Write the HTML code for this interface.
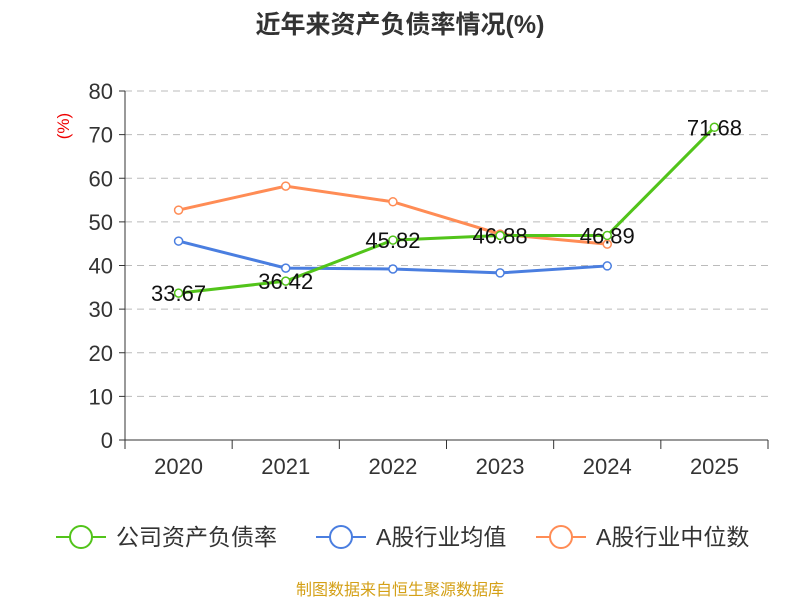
<!DOCTYPE html>
<html><head><meta charset="utf-8"><style>
body{margin:0;background:#fff;}
svg text{font-family:"Liberation Sans","Noto Sans CJK SC",sans-serif;}
</style></head><body>
<svg id="chart" width="800" height="600">
<text x="400" y="33" text-anchor="middle" font-size="25" font-weight="bold" fill="#333">近年来资产负债率情况(%)</text>
<text x="69" y="126" font-size="17" fill="#e00" transform="rotate(-90 69 126)" text-anchor="middle">(%)</text>
<g id="grid"></g>
<g id="axes"></g>
<g id="series"></g>
<g id="legend"></g>
<text x="400" y="595" text-anchor="middle" font-size="16" fill="#d4a017">制图数据来自恒生聚源数据库</text>
</svg>
<script>
const categories=["2020","2021","2022","2023","2024","2025"];
const companyValues=[33.67,36.42,45.82,46.88,46.89,71.68];
const avgValues=[45.6,39.4,39.2,38.3,39.9,null];
const medianValues=[52.7,58.2,54.6,47.2,44.9,null];
const yTicks=[0,10,20,30,40,50,60,70,80];
const NS="http://www.w3.org/2000/svg";
const L=125,R=768,T=91,B=440,yMax=80;
const bw=(R-L)/categories.length;
const xs=i=>L+bw*(i+0.5);
const ys=v=>B-(v/yMax)*(B-T);
function mk(tag,attrs,parent){const e=document.createElementNS(NS,tag);for(const k in attrs)e.setAttribute(k,attrs[k]);parent.appendChild(e);return e;}
const grid=document.getElementById('grid'),axes=document.getElementById('axes'),ser=document.getElementById('series'),leg=document.getElementById('legend');
yTicks.forEach(t=>{
  const y=ys(t);
  if(t>0){const g=mk('line',{x1:L,x2:R,y1:y,y2:y,stroke:'#bbb','stroke-dasharray':'7,5'},grid);
  
  }
  const tk=mk('line',{x1:L-6,x2:L,y1:y,y2:y,stroke:'#333'},axes);
  
  
  const tx=mk('text',{x:L-12,y:y+8,'text-anchor':'end','font-size':22,fill:'#333'},axes);
  tx.textContent=t;
  
  
});
const ya=mk('line',{x1:L,x2:L,y1:T,y2:B,stroke:'#333'},axes);


const xa=mk('line',{x1:L,x2:R,y1:B,y2:B,stroke:'#333'},axes);


for(let i=0;i<=categories.length;i++){
  const x=L+bw*i;
  const tk=mk('line',{x1:x,x2:x,y1:B,y2:B+9,stroke:'#333'},axes);
  
  
}
categories.forEach((c,i)=>{
  const tx=mk('text',{x:xs(i),y:474,'text-anchor':'middle','font-size':22,fill:'#333'},axes);
  tx.textContent=c;
  
  
});
function drawSeries(vals,color,name){
  const pts=[];vals.forEach((v,i)=>{if(v!=null)pts.push([xs(i),ys(v),v]);});
  const pl=mk('polyline',{points:pts.map(p=>p[0]+','+p[1]).join(' '),fill:'none',stroke:color,'stroke-width':3},ser);
  
  
  pts.forEach(p=>{
    const c=mk('circle',{cx:p[0],cy:p[1],r:4,fill:'#fff',stroke:color,'stroke-width':1.5},ser);
    
    
  });
  return pts;
}
drawSeries(avgValues,'#4a7ee0','avg');
drawSeries(medianValues,'#ff8c55','median');
const gp=drawSeries(companyValues,'#52c41a','company');
gp.forEach(p=>{
  const t=mk('text',{x:p[0],y:p[1]+8,'text-anchor':'middle','font-size':22,fill:'#111'},ser);
  t.textContent=p[2].toFixed(2);
  
  
});
const legends=[["公司资产负债率",'#52c41a',56],["A股行业均值",'#4a7ee0',316],["A股行业中位数",'#ff8c55',536]];
legends.forEach(([n,c,x])=>{
  const g=mk('g',{},leg);
  
  
  mk('line',{x1:x,x2:x+50,y1:537,y2:537,stroke:c,'stroke-width':2},g);
  mk('circle',{cx:x+25,cy:537,r:11,fill:'#fff',stroke:c,'stroke-width':2},g);
  const t=mk('text',{x:x+60,y:545,'font-size':23,fill:'#333'},g);t.textContent=n;
});
</script>
</body></html>
